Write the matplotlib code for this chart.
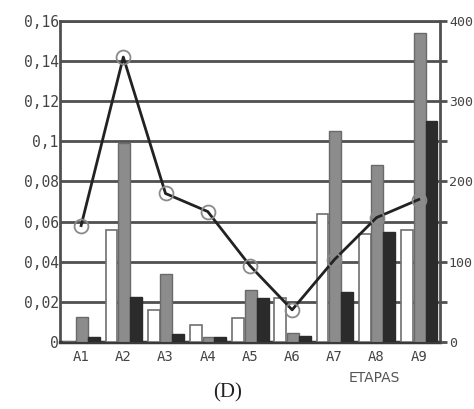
import numpy as np
import matplotlib
matplotlib.use('Agg')
import matplotlib.pyplot as plt

etapas = ['A1', 'A2', 'A3', 'A4', 'A5', 'A6', 'A7', 'A8', 'A9']
white_vals = [0.0, 0.056, 0.016, 0.0085, 0.012, 0.022, 0.064, 0.054, 0.056]
gray_vals = [0.0125, 0.099, 0.034, 0.0025, 0.026, 0.0045, 0.105, 0.088, 0.154]
black_vals = [0.0025, 0.0224, 0.004, 0.0025, 0.022, 0.003, 0.025, 0.055, 0.110]
line_vals = [0.058, 0.142, 0.074, 0.065, 0.038, 0.016, 0.041, 0.062, 0.071]

left_ticks = [0, 0.02, 0.04, 0.06, 0.08, 0.1, 0.12, 0.14, 0.16]
left_labels = ['0', '0,02', '0,04', '0,06', '0,08', '0,1', '0,12', '0,14', '0,16']
right_ticks = [0, 100, 200, 300, 400]

GRID = '#505050'
mono = 'DejaVu Sans Mono'

fig = plt.figure(figsize=(4.74, 4.09), dpi=100)
ax = fig.add_axes([0.1266, 0.164, 0.8014, 0.7847])

x = np.arange(len(etapas))
w = 0.28
ax.bar(x - 0.28, white_vals, w, color='white', edgecolor='#707070', linewidth=1.2, zorder=3)
ax.bar(x + 0.02, gray_vals, w, color='#8c8c8c', edgecolor='#6a6a6a', linewidth=1.0, zorder=3)
ax.bar(x + 0.30, black_vals, w, color='#2b2b2b', edgecolor='#2b2b2b', linewidth=1.0, zorder=3)
ax.plot(x, line_vals, color='#222222', linewidth=2.0, marker='o', markersize=10,
        markerfacecolor='none', markeredgecolor='#8a8a8a', markeredgewidth=1.3, zorder=4)

ax.set_xlim(-0.5, len(etapas) - 0.5)
ax.set_ylim(0, 0.16)
ax.set_yticks(left_ticks)
ax.set_yticklabels(left_labels, fontfamily=mono, fontsize=10.5, color='#444444')
ax.set_xticks(x)
ax.set_xticklabels(etapas, fontfamily=mono, fontsize=10, color='#444444')
ax.tick_params(axis='y', length=0, pad=1)
ax.tick_params(axis='x', length=0, pad=6)
ax.yaxis.grid(True, color=GRID, linewidth=2.0, zorder=0)
ax.set_axisbelow(True)
for s in ['left', 'top', 'right']:
    ax.spines[s].set_color(GRID)
    ax.spines[s].set_linewidth(2.0)
ax.spines['bottom'].set_color('#3a3a3a')
ax.spines['bottom'].set_linewidth(2.5)

ax2 = ax.twinx()
ax2.set_ylim(0, 400)
ax2.set_yticks(right_ticks)
ax2.set_yticks(np.arange(50, 400, 100), minor=True)
ax2.set_yticklabels([str(t) for t in right_ticks], fontfamily=mono, fontsize=9.5, color='#444444')
ax2.tick_params(axis='y', which='both', length=5, width=2, color=GRID, pad=1.5)
for s in ax2.spines.values():
    s.set_visible(False)

fig.text(0.79, 0.077, 'ETAPAS', ha='center', va='center', fontsize=10, color='#555555')
fig.text(0.481, 0.04, '(D)', ha='center', va='center', fontsize=15,
         family='Liberation Serif', color='#222222')

fig.savefig('out.png', dpi=100)
